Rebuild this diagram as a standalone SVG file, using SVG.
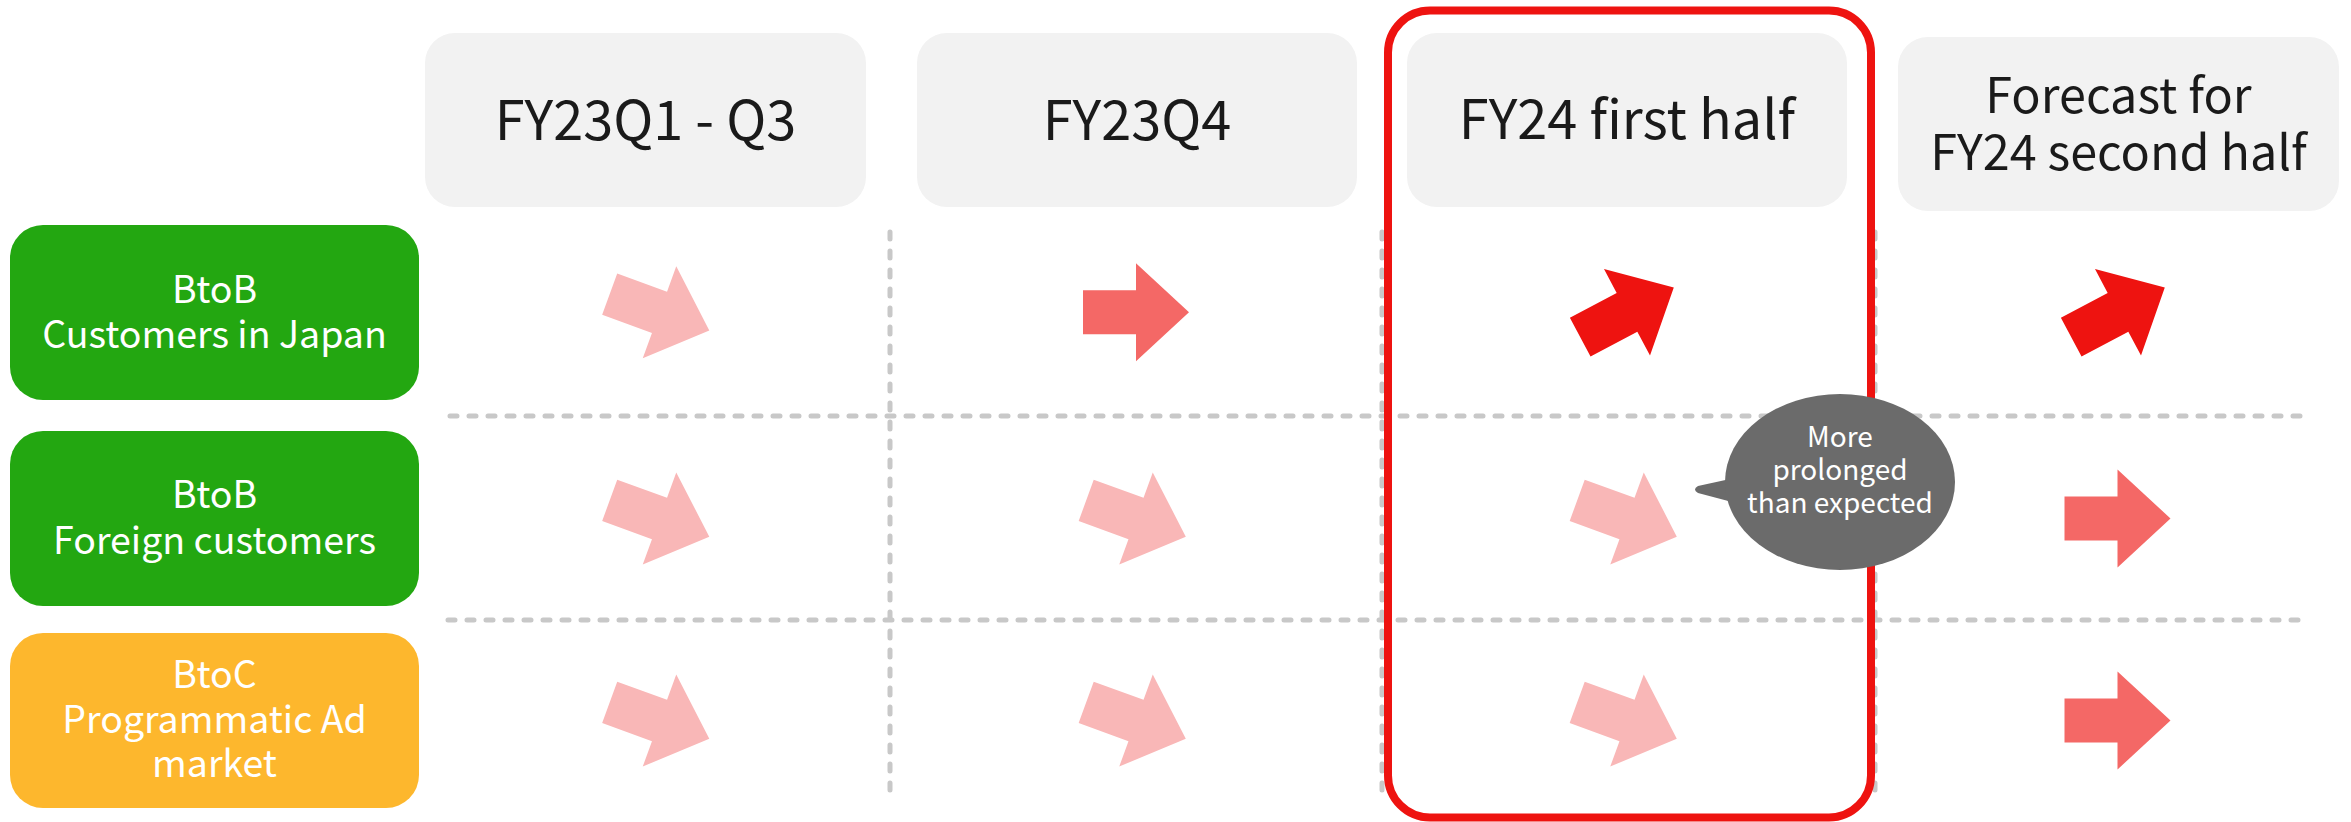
<svg xmlns="http://www.w3.org/2000/svg" xmlns:xlink="http://www.w3.org/1999/xlink" width="2351" height="822" viewBox="0 0 2351 822">
  <style>
    .txt { font-family: "Noto Sans CJK JP", "Noto Sans", "Liberation Sans", sans-serif; text-anchor: middle; }
    .head-box { fill: #f2f2f2; }
    .head-txt { fill: #1a1a1a; font-size: 54px; }
    .head-txt2 { fill: #1a1a1a; font-size: 48.5px; }
    .seg-txt { fill: #ffffff; font-size: 37.5px; }
    .btob { fill: #23a711; }
    .btoc { fill: #fdb72d; }
    .grid { stroke: #c8c8c8; stroke-width: 5; stroke-dasharray: 7 12; stroke-linecap: round; fill: none; }
    .down { fill: #f9b7b7; }
    .flat { fill: #f46866; }
    .up { fill: #ee1310; }
    .bubble { fill: #6b6b6b; }
    .bubble-txt { fill: #ffffff; font-size: 28px; }
  </style>
  <defs>
    <!-- block arrow pointing along +x, centred on the origin -->
    <path id="arrow" d="M-53,-22 H0 V-49 L53,0 L0,49 V22 H-53 Z"/>
  </defs>

  <rect width="2351" height="822" fill="#ffffff"/>

  <!-- dashed grid -->
  <g id="grid">
    <line class="grid" x1="450" y1="416" x2="2308" y2="416"/>
    <line class="grid" x1="448" y1="620" x2="2304" y2="620"/>
    <line class="grid" x1="890" y1="232" x2="890" y2="796"/>
    <line class="grid" x1="1382" y1="232" x2="1382" y2="796"/>
    <line class="grid" x1="1875" y1="232" x2="1875" y2="796"/>
  </g>

  <!-- period headers -->
  <g id="head-fy23q1q3">
    <rect class="head-box" x="425" y="33" width="441" height="174" rx="30"/>
    <text class="txt head-txt" x="645.5" y="140">FY23Q1 - Q3</text>
  </g>
  <g id="head-fy23q4">
    <rect class="head-box" x="917" y="33" width="440" height="174" rx="30"/>
    <text class="txt head-txt" x="1137" y="140">FY23Q4</text>
  </g>
  <g id="head-fy24h1">
    <rect class="head-box" x="1407" y="33" width="440" height="174" rx="30"/>
    <text class="txt head-txt" x="1627" y="139">FY24 first half</text>
  </g>
  <g id="head-fy24h2">
    <rect class="head-box" x="1898" y="37" width="441" height="174" rx="30"/>
    <text class="txt head-txt2" x="2118.5" y="112.5">Forecast for<tspan x="2118.5" y="170">FY24 second half</tspan></text>
  </g>

  <!-- segment labels -->
  <g id="seg-btob-japan">
    <rect class="btob" x="10" y="225" width="409" height="175" rx="33"/>
    <text class="txt seg-txt" x="214.5" y="303">BtoB<tspan x="214.5" y="348">Customers in Japan</tspan></text>
  </g>
  <g id="seg-btob-foreign">
    <rect class="btob" x="10" y="431" width="409" height="175" rx="33"/>
    <text class="txt seg-txt" x="214.5" y="508">BtoB<tspan x="214.5" y="554">Foreign customers</tspan></text>
  </g>
  <g id="seg-btoc-ad">
    <rect class="btoc" x="10" y="633" width="409" height="175" rx="33"/>
    <text class="txt seg-txt" x="214.5" y="688">BtoC<tspan x="214.5" y="733">Programmatic Ad</tspan><tspan x="214.5" y="777">market</tspan></text>
  </g>

  <!-- trend arrows -->
  <g id="trends">
    <use xlink:href="#arrow" class="down" transform="translate(659.5,312.3) rotate(20)"/>
    <use xlink:href="#arrow" class="down" transform="translate(659.5,518.5) rotate(20)"/>
    <use xlink:href="#arrow" class="down" transform="translate(659.5,720.5) rotate(20)"/>

    <use xlink:href="#arrow" class="flat" transform="translate(1136,312.3)"/>
    <use xlink:href="#arrow" class="down" transform="translate(1136,518.5) rotate(20)"/>
    <use xlink:href="#arrow" class="down" transform="translate(1136,720.5) rotate(20)"/>

    <use xlink:href="#arrow" class="up" transform="translate(1627,312.3) rotate(-28)"/>
    <use xlink:href="#arrow" class="down" transform="translate(1627,518.5) rotate(20)"/>
    <use xlink:href="#arrow" class="down" transform="translate(1627,720.5) rotate(20)"/>

    <use xlink:href="#arrow" class="up" transform="translate(2118,312.3) rotate(-28)"/>
    <use xlink:href="#arrow" class="flat" transform="translate(2117.5,518.5)"/>
    <use xlink:href="#arrow" class="flat" transform="translate(2117.5,720.5)"/>
  </g>

  <!-- highlight frame around the current half -->
  <g id="highlight">
    <rect x="1388" y="10.5" width="483" height="807" rx="42" fill="none" stroke="#ee1310" stroke-width="8"/>
  </g>

  <!-- callout -->
  <g id="callout">
    <path class="bubble" d="M1730,479 L1698,486 Q1692,489.5 1698,493 L1732,502 Z"/>
    <ellipse class="bubble" cx="1840" cy="482" rx="115" ry="88"/>
    <text class="txt bubble-txt" x="1840" y="447">More<tspan x="1840" y="480">prolonged</tspan><tspan x="1840" y="513">than expected</tspan></text>
  </g>
</svg>
